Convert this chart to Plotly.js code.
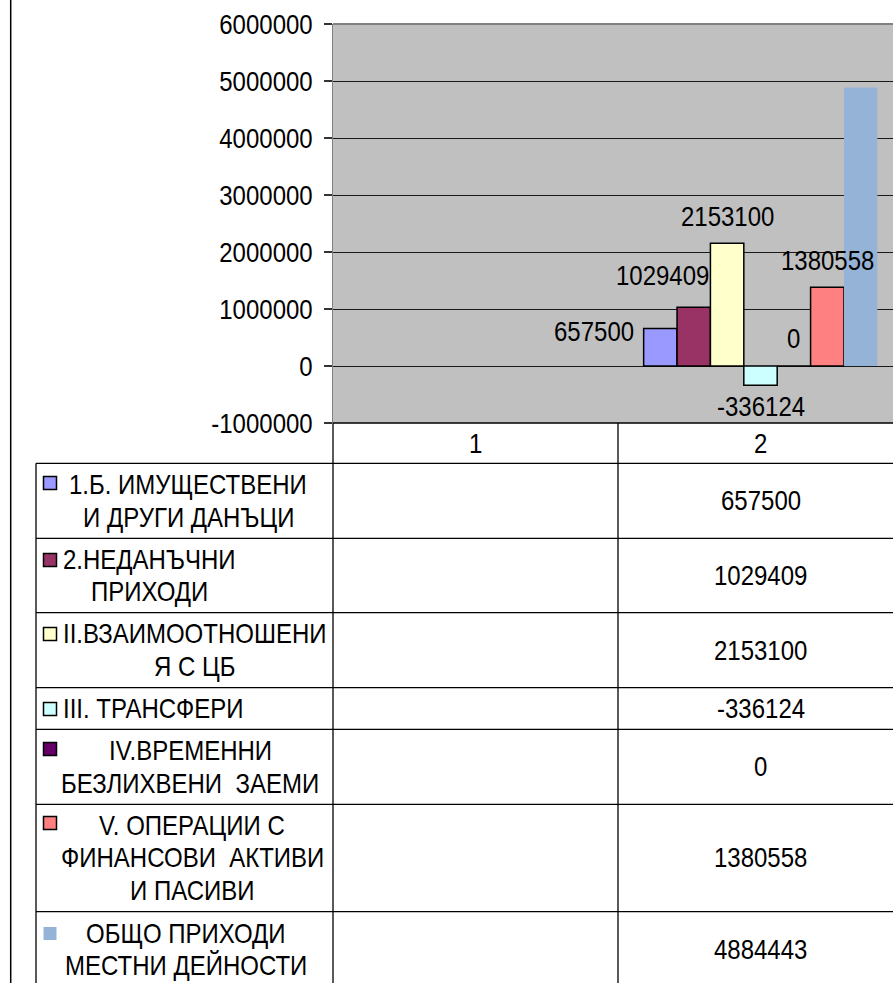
<!DOCTYPE html>
<html>
<head>
<meta charset="utf-8">
<script src="https://cdn.plot.ly/plotly-3.0.1.min.js"></script>
<style>
html,body{margin:0;padding:0;background:#fff;overflow:hidden;}
#chart{width:910px;height:983px;}
</style>
</head>
<body>
<div id="chart"></div>
<script>
// ---- data ----
const categories = ['1', '2'];
const seriesNames = [
  '1.Б. ИМУЩЕСТВЕНИ\nИ ДРУГИ ДАНЪЦИ',
  '2.НЕДАНЪЧНИ\nПРИХОДИ',
  'II.ВЗАИМООТНОШЕНИ\nЯ С ЦБ',
  'III. ТРАНСФЕРИ',
  'IV.ВРЕМЕННИ\nБЕЗЛИХВЕНИ  ЗАЕМИ',
  'V. ОПЕРАЦИИ С\nФИНАНСОВИ  АКТИВИ\nИ ПАСИВИ',
  'ОБЩО ПРИХОДИ\nМЕСТНИ ДЕЙНОСТИ'
];
const valuesCat1 = [null, null, null, null, null, null, null];
const valuesCat2 = [657500, 1029409, 2153100, -336124, 0, 1380558, 4884443];
const yTickVals = [-1000000, 0, 1000000, 2000000, 3000000, 4000000, 5000000, 6000000];
const yTickLabels = ['-1000000', '0', '1000000', '2000000', '3000000', '4000000', '5000000', '6000000'];
const labelledSeries = [0, 1, 2, 3, 4, 5];

// ---- styles ----
const colors = ['#9999FF', '#993366', '#FFFFCC', '#CCFFFF', '#660066', '#FF8080', '#95B3D7'];
const borders = [1.5, 1.5, 1.5, 1.5, 1.5, 1.5, 0];
const FONT = 'Arial, "Liberation Sans", sans-serif';
const BARGAP = 0.18;
const TEXT_STRETCH = 1.15;

// pixel -> paper helpers (layout only)
const X0 = 333, X1 = 903, Y0 = 24, Y1 = 423;
const fx = p => (p - X0) / (X1 - X0);
const fy = p => (Y1 - p) / (Y1 - Y0);

const traces = seriesNames.map((n, i) => ({
  type: 'bar',
  name: n.replace(/\n/g, ' '),
  x: categories,
  y: [valuesCat1[i], valuesCat2[i]],
  marker: { color: colors[i], line: { color: '#000', width: borders[i] } },
  hoverinfo: 'skip',
  showlegend: false
}));

const annotations = [];
const shapes = [];
const tfont = { family: FONT, size: 24, color: '#000' };

// data labels on bars
const labelShift = [[-66, -3], [-31, 32], [0, 27], [0, -21], [0, 28], [0, 27]];
const nS = seriesNames.length;
const bw = (1 - BARGAP) / nS;
labelledSeries.forEach((i, k) => {
  annotations.push({
    xref: 'x', yref: 'y',
    x: 1 + (i - (nS - 1) / 2) * bw,
    y: valuesCat2[i],
    text: String(valuesCat2[i]),
    showarrow: false,
    xanchor: 'center', yanchor: 'middle',
    xshift: labelShift[k][0], yshift: labelShift[k][1],
    font: tfont
  });
});

// header row labels (categories)
categories.forEach((c, j) => {
  annotations.push({
    xref: 'x', yref: 'paper', x: j, y: fy(443.5),
    text: c, showarrow: false, xanchor: 'center', yanchor: 'middle',
    font: tfont
  });
});

// table geometry
const rowEdges = [463.3, 538.3, 612.7, 687.7, 729.3, 804.3, 911.7, 987];
const rowTextCx = [188, 149.5, 195, 153, 190, 192, 186];
const keyCy = [483, 560, 634, 709, 749, 823, 933.5];
const LINE = 32.5;

// horizontal lines
shapes.push({ type: 'line', xref: 'paper', yref: 'paper', x0: fx(333), x1: fx(903), y0: fy(423), y1: fy(423), line: { color: '#000', width: 1.5 } });
rowEdges.slice(0, 7).forEach(yy => {
  shapes.push({ type: 'line', xref: 'paper', yref: 'paper', x0: fx(36), x1: fx(903), y0: fy(yy), y1: fy(yy), line: { color: '#000', width: 1.3 } });
});
// vertical lines
shapes.push({ type: 'line', xref: 'paper', yref: 'paper', x0: fx(36), x1: fx(36), y0: fy(463.3), y1: fy(990), line: { color: '#000', width: 1.3 } });
shapes.push({ type: 'line', xref: 'paper', yref: 'paper', x0: fx(333), x1: fx(333), y0: fy(423), y1: fy(990), line: { color: '#000', width: 1.3 } });
shapes.push({ type: 'line', xref: 'x', yref: 'paper', x0: 0.5, x1: 0.5, y0: fy(423), y1: fy(990), line: { color: '#000', width: 1.3 } });
// left page border
shapes.push({ type: 'line', xref: 'paper', yref: 'paper', x0: fx(10.7), x1: fx(10.7), y0: fy(-5), y1: fy(990), line: { color: '#000', width: 1.5 } });
// plot top border
shapes.push({ type: 'line', xref: 'paper', yref: 'paper', x0: 0, x1: 1, y0: 1, y1: 1, line: { color: '#808080', width: 2 } });

// legend keys + row labels + values
seriesNames.forEach((n, i) => {
  const rc = (rowEdges[i] + rowEdges[i + 1]) / 2;
  shapes.push({
    type: 'rect', xref: 'paper', yref: 'paper',
    x0: fx(43.5), x1: fx(56.5), y0: fy(keyCy[i] - 6.5), y1: fy(keyCy[i] + 6.5),
    fillcolor: colors[i], line: { color: '#000', width: borders[i] > 0 ? 1.5 : 0 }
  });
  const lines = n.split('\n');
  lines.forEach((ln, k) => {
    annotations.push({
      xref: 'paper', yref: 'paper', x: fx(rowTextCx[i]),
      y: fy(rc + (k - (lines.length - 1) / 2) * LINE),
      text: ln, showarrow: false, xanchor: 'center', yanchor: 'middle',
      font: tfont
    });
  });
  annotations.push({
    xref: 'x', yref: 'paper', x: 1, y: fy(rc),
    text: String(valuesCat2[i]), showarrow: false, xanchor: 'center', yanchor: 'middle',
    font: tfont
  });
});

const layout = {
  width: 910, height: 983,
  margin: { l: 333, r: 7, t: 24, b: 560, pad: 0 },
  paper_bgcolor: '#ffffff',
  plot_bgcolor: '#C0C0C0',
  barmode: 'group', bargap: BARGAP, bargroupgap: 0,
  showlegend: false,
  font: tfont,
  xaxis: {
    type: 'category', range: [-0.5, 1.5], showticklabels: false,
    showgrid: false, zeroline: false, ticks: '', showline: false, fixedrange: true
  },
  yaxis: {
    range: [-1000000, 6000000], tickvals: yTickVals, ticktext: yTickLabels,
    showgrid: true, gridcolor: '#1a1a1a', gridwidth: 1, zeroline: false,
    showline: true, linecolor: '#808080', linewidth: 1.5,
    ticks: 'outside', ticklen: 8, tickcolor: '#333', tickwidth: 1.2,
    ticklabelstandoff: 6,
    tickfont: tfont, fixedrange: true
  },
  shapes: shapes,
  annotations: annotations
};

Plotly.newPlot('chart', traces, layout, { staticPlot: true, displayModeBar: false }).then(gd => {
  // Excel-rendered text is slightly taller than Arial: stretch glyphs vertically about their centre
  gd.querySelectorAll('svg text').forEach(t => {
    try {
      const b = t.getBBox();
      if (!b || !b.height) return;
      const cy = b.y + b.height / 2;
      const prev = t.getAttribute('transform') || '';
      t.setAttribute('transform', (prev + ' translate(0,' + cy + ') scale(1,' + TEXT_STRETCH + ') translate(0,' + (-cy) + ')').trim());
    } catch (e) {}
  });
});
</script>
</body>
</html>
